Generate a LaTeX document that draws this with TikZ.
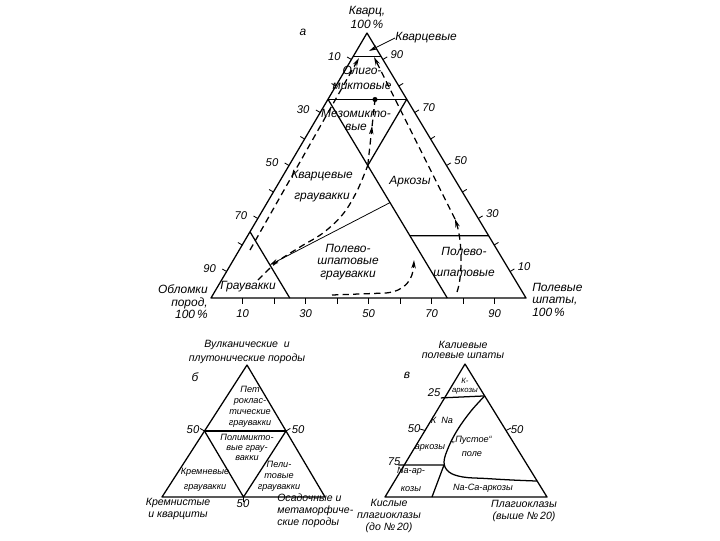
\documentclass[tikz,border=0pt]{standalone}
\usepackage{fontspec}
\setmainfont{Liberation Sans}
\usetikzlibrary{calc,arrows.meta}
\begin{document}
\begin{tikzpicture}[x=0.025cm,y=-0.025cm,
  tri/.style={line width=0.9pt,line join=round},
  thn/.style={line width=0.55pt},
  dsh/.style={line width=0.9pt,dash pattern=on 4.5pt off 3pt},
  tk/.style={line width=0.6pt},
  arr/.style={-{Stealth[length=6pt,width=3.2pt]}},
  lb/.style={font=\fontsize{8.5}{10}\selectfont\itshape,inner sep=0pt,align=center},
  nm/.style={font=\fontsize{8}{9}\selectfont\itshape,inner sep=0pt},
  sl/.style={font=\fontsize{7.5}{8}\selectfont\itshape,inner sep=0pt,align=center},
  xs/.style={font=\fontsize{6.5}{7.8}\selectfont\itshape,inner sep=0pt,align=center},
  xxs/.style={font=\fontsize{5.5}{6.4}\selectfont\itshape,inner sep=0pt,align=center},
]
\useasboundingbox (0,0) rectangle (720,540);
\fill[white] (0,0) rectangle (720,540);

% ---------------- main triangle (a) ----------------
\coordinate (A) at (367,33);
\coordinate (L) at (211,298);
\coordinate (R) at (526,298);
\draw[tri] (A) -- (L) -- (R) -- cycle;
\coordinate (N1) at ($(A)!0.09!(L)$);
\coordinate (N2) at ($(A)!0.09!(R)$);
\draw[tri] (N1) -- (N2);
\coordinate (P) at ($(A)!0.25!(L)$);
\coordinate (Q) at ($(A)!0.25!(R)$);
\draw[tri] (P) -- (Q);
\coordinate (B1) at ($(L)!0.75!(R)$);
\coordinate (B2) at ($(L)!0.25!(R)$);
\coordinate (X) at ($(P)!0.3333!(B1)$);
\draw[tri] (P) -- (B1);
\draw[tri] (Q) -- (X);
\coordinate (G1) at ($(A)!0.75!(L)$);
\draw[tri] (G1) -- (B2);
\coordinate (H1) at ($(P)!0.687!(B1)$);
\coordinate (H2) at ($(A)!0.765!(R)$);
\draw[tri] (H1) -- (H2);
\coordinate (M1) at ($(P)!0.52!(B1)$);
\coordinate (M2) at ($(G1)!0.5!(B2)$);
\draw[thn,arr] (M1) -- (M2);

% ticks
\foreach \i in {1,...,9}{
  \draw[tk] ($(A)!\i/10!(L)$) -- ++(-4.3,-2.5);
  \draw[tk] ($(A)!\i/10!(R)$) -- ++(4.3,-2.6);
  \draw[tk] ($(L)!\i/10!(R)$) -- ++(0,6);
}
\foreach \t/\lab in {0.1/10,0.3/30,0.5/50,0.7/70,0.9/90}{
  \node[nm] (ll\lab) at ($(A)!\t!(L)+(-17,-3)$) {\lab};
  \node[nm] (bl\lab) at ($(L)!\t!(R)+(0,16)$) {\lab};
}
\foreach \t/\lab in {0.1/90,0.3/70,0.5/50,0.7/30,0.9/10}{
  \node[nm] (rl\lab) at ($(A)!\t!(R)+(14,-5)$) {\lab};
}

% dashed trends
\coordinate (D) at (375,99.5);
\coordinate (Dm) at ($(X)!0.6!(D)$);
\draw[dsh,arr] (X) -- (Dm);
\draw[dsh] (Dm) -- (D);
\fill (D) circle[radius=1.8pt];
\coordinate (ld1) at (250,250);
\coordinate (ld2) at (359,58);
\draw[dsh,arr] (ld1) -- (ld2);
\coordinate (rd0) at (457,292);
\coordinate (rd1) at (462,258);
\coordinate (rd2) at (455,219);
\coordinate (rd3) at (374,57);
\draw[dsh,arr] (rd0) .. controls (463,275) and (462,240) .. (rd2);
\draw[dsh,arr] (rd2) -- (rd3);
\coordinate (gd0) at (258,280);
\draw[dsh] plot[smooth,tension=0.6] coordinates {(gd0) (277,262) (300,247) (323,233) (343,214) (357,191) (X)};
\coordinate (bd0) at (332,295);
\coordinate (bd1) at (386,293);
\coordinate (bd2) at (414,260);
\draw[dsh,arr] (bd0) -- (bd1) .. controls (405,291) and (413,280) .. (bd2);

% labels main
\node[lb] (kvarc) at (367,17.5) {Кварц,\\[0.5pt]100\,\%};
\node[lb] (ta) at (303,32) {а};
\node[lb,anchor=west] (kvz) at (395,38) {Кварцевые};
\draw[thn,arr] (kvz.west) -- (369,51);
\node[lb] (olig) at (362,78) {Олиго-\\[1pt]миктовые};
\node[lb] (mezo) at (356,120) {Мезомикто-\\[-1pt]вые};
\node[lb] (kvgr) at (322,186) {Кварцевые\\[4.5pt]граувакки};
\node[lb] (ark) at (410,182) {Аркозы};
\node[lb] (pshg) at (348,262) {Полево-\\[-1pt]шпатовые\\[-1pt]граувакки};
\node[lb] (psh) at (464,262) {Полево-\\[5pt]шпатовые};
\node[lb] (grw) at (248,287) {Граувакки};
\node[lb,align=right,anchor=east] (oblp) at (208,302) {Обломки\\[-1pt]пород,\\[-1pt]100\,\%};
\node[lb,align=left,anchor=west] (polsh) at (532,300) {Полевые\\[-1.5pt]шпаты,\\[-0.5pt]100\,\%};

% ---------------- triangle (б) ----------------
\coordinate (bA) at (247,365);
\coordinate (bL) at (162,497);
\coordinate (bR) at (325,497);
\draw[tri] (bA) -- (bL) -- (bR) -- cycle;
\coordinate (bm1) at ($(bA)!0.5!(bL)$);
\coordinate (bm2) at ($(bA)!0.5!(bR)$);
\coordinate (bm3) at ($(bL)!0.5!(bR)$);
\draw[tri] (bm1) -- (bm2);
\draw[tri] (bm1) -- (bm3) -- (bm2);
\draw[tk] (bm1) -- ++(-4.3,-2.5);
\draw[tk] (bm2) -- ++(4.3,-2.6);
\draw[tk] (bm3) -- ++(0,5);
\node[sl] (bvulk) at (247,352) {Вулканические\ \ и\\[2.5pt]плутонические породы};
\node[lb] (tb) at (195,377) {б};
\node[xs] (bpet) at (250,406.5) {Пет\\роклас-\\тические\\граувакки};
\node[nm] (b50l) at (193,430) {50};
\node[nm] (b50r) at (298,430) {50};
\node[nm] (b50b) at (243,504) {50};
\node[xs] (bpol) at (247,447.5) {Полимикто-\\[-0.5pt]вые грау-\\[-0.5pt]вакки};
\node[xs] (bkrem) at (205,479.5) {Кремневые\\[3pt]граувакки};
\node[xs] (bpel) at (279,476) {Пели-\\товые\\граувакки};
\node[sl] (bkr) at (178,509) {Кремнистые\\[1pt]и кварциты};
\node[sl,align=left,anchor=west] (bosad) at (277,511) {Осадочные и\\[0.5pt]метаморфиче-\\[0.5pt]ские породы};

% ---------------- triangle (в) ----------------
\coordinate (cA) at (465,364);
\coordinate (cL) at (385,497);
\coordinate (cR) at (547,497);
\draw[tri] (cA) -- (cL) -- (cR) -- cycle;
\coordinate (c25l) at ($(cA)!0.24!(cL)$);
\coordinate (c25r) at ($(cA)!0.24!(cR)$);
\draw[tri] ($(c25l)+(-5,2)$) -- (c25r);
\coordinate (c75l) at ($(cA)!0.759!(cL)$);
\coordinate (c75r) at (444,465);
\draw[tri] ($(c75l)+(-6,0)$) -- (c75r);
\coordinate (cNa) at ($(cL)!0.29!(cR)$);
\draw[tri] (c75r) -- (cNa);
\coordinate (cEnd) at ($(cA)!0.88!(cR)$);
\draw[tri] plot[smooth,tension=0.6] coordinates {(c25r) (471,411) (458,429) (449,446) (444,462) (449,472) (463,477) (486,478.5) (512,480) (cEnd)};
\coordinate (c50l) at ($(cA)!0.5!(cL)$);
\coordinate (c50r) at ($(cA)!0.5!(cR)$);
\draw[tk] (c50l) -- ++(-5,-1.5);
\draw[tk] (c50r) -- ++(5,-2.5);
\node[sl] (ckal) at (463,350) {Калиевые\\[-0.8pt]полевые шпаты};
\node[lb] (tv) at (407,375) {в};
\node[xxs] (ck) at (465,386.5) {К-\\аркозы};
\node[nm] (c25) at (434,393) {25};
\node[nm] (c50) at (414,429) {50};
\node[nm] (c75) at (394,462) {75};
\node[nm] (c50rt) at (517,430) {50};
\node[xs] (ckna) at (442,420) {К\ \ Na};
\node[xs] (cark) at (430,448) {аркозы};
\node[xs] (cpust) at (472,446.5) {„Пустое“\\[2pt]поле};
\node[xs] (cnaar) at (411,479) {Na-ар-\\[5pt]козы};
\node[xs] (cnaca) at (483,488) {Na-Ca-аркозы};
\node[sl] (ckisl) at (389,516) {Кислые\\[0.5pt]плагиоклазы\\[0.5pt](до №\,20)};
\node[sl] (cplag) at (524,510.5) {Плагиоклазы\\[0.5pt](выше №\,20)};
\end{tikzpicture}
\end{document}
